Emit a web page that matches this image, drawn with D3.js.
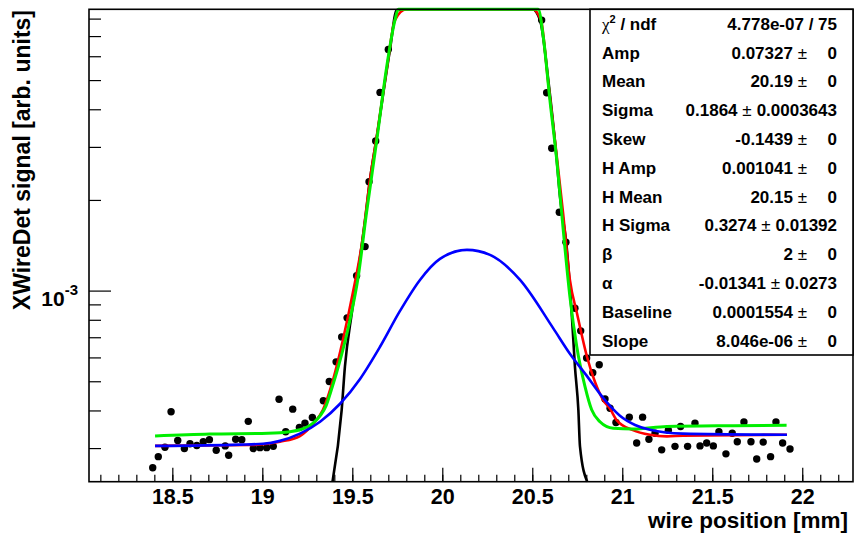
<!DOCTYPE html>
<html>
<head>
<meta charset="utf-8">
<script src="https://cdn.jsdelivr.net/npm/d3@7"></script>
<style>
  body { margin: 0; background: #fff; }
  text { font-family: "Liberation Sans", Arial, sans-serif; font-weight: bold; }
</style>
</head>
<body>
<div id="chart"></div>
<script>
// measured points: wire position [mm] and signal
const wirePos = [18.391, 18.422, 18.459, 18.493, 18.530, 18.567, 18.598, 18.636, 18.672, 18.706,
  18.744, 18.794, 18.813, 18.852, 18.886, 18.922, 18.950, 18.987, 19.024, 19.061,
  19.093, 19.130, 19.169, 19.206, 19.237, 19.278, 19.339, 19.372, 19.410, 19.441,
  19.471, 19.524, 19.571, 19.593, 19.630, 19.654, 19.700,
  20.552, 20.580, 20.608, 20.650, 20.687, 20.737, 20.769, 20.802, 20.836, 20.872,
  20.904, 20.932, 20.965, 21.039, 21.080, 21.113, 21.148, 21.182, 21.219, 21.256,
  21.293, 21.324, 21.363, 21.404, 21.432, 21.469, 21.506, 21.537, 21.576, 21.611,
  21.639, 21.676, 21.715, 21.747, 21.783, 21.824, 21.854, 21.891, 21.932];
const signal = [2.58e-4, 2.81e-4, 3.02e-4, 3.96e-4, 3.18e-4, 2.99e-4, 3.10e-4, 3.06e-4, 3.15e-4, 3.20e-4,
  2.95e-4, 3.05e-4, 2.84e-4, 3.21e-4, 3.20e-4, 3.68e-4, 2.99e-4, 3.01e-4, 3.01e-4, 3.04e-4,
  4.36e-4, 3.40e-4, 4.04e-4, 3.51e-4, 3.63e-4, 3.79e-4, 4.31e-4, 4.99e-4, 5.80e-4, 7.02e-4,
  8.12e-4, 1.121e-3, 1.40e-3, 2.30e-3, 3.14e-3, 4.55e-3, 6.32e-3,
  7.91e-3, 4.54e-3, 2.97e-3, 1.82e-3, 1.447e-3, 8.74e-4, 7.35e-4, 5.97e-4, 5.34e-4, 5.67e-4,
  4.37e-4, 4.07e-4, 3.65e-4, 3.80e-4, 3.12e-4, 3.80e-4, 3.21e-4, 3.36e-4, 2.96e-4, 3.44e-4,
  3.04e-4, 3.54e-4, 3.04e-4, 3.63e-4, 3.05e-4, 3.12e-4, 3.05e-4, 3.40e-4, 2.87e-4, 3.36e-4,
  3.15e-4, 3.66e-4, 3.15e-4, 2.76e-4, 3.14e-4, 2.81e-4, 3.66e-4, 3.12e-4, 2.98e-4];

// fit curves, [position, signal]
const blackFit = [[19.39, 2.3e-4], [19.441, 4.02e-4], [19.459, 5.59e-4], [19.497, 8.41e-4], [19.533, 1.171e-3],
  [19.571, 1.716e-3], [19.598, 2.33e-3], [19.636, 3.24e-3], [19.709, 6.29e-3], [19.747, 8.54e-3],
  [19.80, 1.3e-2], [20.0, 5.5e-2], [20.19, 7.3e-2], [20.40, 4.0e-2], [20.50, 1.4e-2],
  [20.543, 7.91e-3], [20.589, 5.00e-3], [20.636, 2.71e-3], [20.654, 2.05e-3], [20.691, 1.40e-3],
  [20.719, 8.41e-4], [20.737, 5.59e-4], [20.756, 4.02e-4], [20.765, 3.04e-4], [20.805, 2.3e-4]];

const redFit = [[18.404, 3.05e-4], [18.932, 3.07e-4], [19.098, 3.15e-4], [19.209, 3.29e-4], [19.282, 3.61e-4],
  [19.337, 4.02e-4], [19.393, 5.05e-4], [19.448, 6.86e-4], [19.503, 9.83e-4], [19.554, 1.44e-3],
  [19.598, 2.33e-3], [19.637, 3.29e-3], [19.693, 5.52e-3], [19.737, 7.91e-3],
  [19.80, 1.3e-2], [20.0, 5.6e-2], [20.19, 7.4e-2], [20.40, 4.1e-2], [20.50, 1.5e-2],
  [20.548, 7.91e-3], [20.587, 5.00e-3], [20.632, 2.93e-3], [20.671, 1.81e-3], [20.709, 1.085e-3],
  [20.748, 8.43e-4], [20.804, 6.03e-4], [20.848, 4.98e-4], [20.893, 4.34e-4], [20.932, 4.05e-4],
  [20.971, 3.70e-4], [21.059, 3.44e-4], [21.154, 3.32e-4], [21.248, 3.28e-4], [21.337, 3.30e-4],
  [21.915, 3.32e-4]];

const greenFit = [[18.404, 3.29e-4], [18.708, 3.34e-4], [19.032, 3.36e-4], [19.154, 3.40e-4], [19.209, 3.45e-4],
  [19.282, 3.63e-4], [19.321, 3.84e-4], [19.354, 4.14e-4], [19.382, 4.65e-4], [19.422, 5.58e-4],
  [19.487, 7.99e-4], [19.533, 1.113e-3], [19.577, 1.78e-3], [19.636, 3.16e-3], [19.691, 5.53e-3],
  [19.737, 7.91e-3], [19.756, 8.59e-3],
  [19.80, 1.3e-2], [20.0, 5.5e-2], [20.19, 7.4e-2], [20.40, 4.0e-2], [20.50, 1.1e-2],
  [20.533, 8.59e-3], [20.561, 6.96e-3], [20.598, 4.29e-3], [20.636, 2.71e-3], [20.672, 1.59e-3],
  [20.709, 9.55e-4], [20.747, 6.52e-4], [20.793, 4.80e-4], [20.830, 4.02e-4], [20.876, 3.67e-4],
  [20.950, 3.49e-4], [21.061, 3.47e-4], [21.247, 3.54e-4], [21.617, 3.56e-4], [21.913, 3.57e-4]];

const blueFit = [[18.404, 3.05e-4], [18.876, 3.08e-4], [19.004, 3.10e-4], [19.098, 3.17e-4], [19.209, 3.35e-4],
  [19.321, 3.67e-4], [19.432, 4.21e-4], [19.543, 5.09e-4], [19.654, 6.51e-4], [19.765, 8.56e-4],
  [19.876, 1.085e-3], [19.987, 1.274e-3], [20.137, 1.365e-3], [20.265, 1.314e-3], [20.432, 1.085e-3],
  [20.615, 7.52e-4], [20.709, 6.17e-4], [20.803, 5.21e-4], [20.876, 4.54e-4], [20.932, 4.14e-4],
  [20.987, 3.84e-4], [21.071, 3.58e-4], [21.154, 3.45e-4], [21.337, 3.35e-4], [21.915, 3.32e-4]];

// axis ticks
const xMajorTicks = [18.5, 19, 19.5, 20, 20.5, 21, 21.5, 22];
const xMinorTicks = d3.range(181, 223).map((i) => i / 10);
const yMajorTicks = [1e-3];
const yMinorTicks = [3e-4, 4e-4, 5e-4, 6e-4, 7e-4, 8e-4, 9e-4, 2e-3, 3e-3, 4e-3, 5e-3, 6e-3, 7e-3, 8e-3];

// fit box
const statNames = ['chi', 'Amp', 'Mean', 'Sigma', 'Skew', 'H Amp', 'H Mean', 'H Sigma', 'β', 'α', 'Baseline', 'Slope'];
const statValues = ['4.778e-07 / 75', '0.07327', '20.19', '0.1864', '-0.1439', '0.001041', '20.15', '0.3274', '2', '-0.01341', '0.0001554', '8.046e-06'];
const statErrors = [null, '0', '0', '0.0003643', '0', '0', '0', '0.01392', '0', '0.0273', '0', '0'];

const width = 854;
const height = 534;
const frame = { left: 89, top: 9.3, right: 853, bottom: 481.7 };

const svg = d3.select('#chart').append('svg')
  .attr('width', width)
  .attr('height', height);

const x = d3.scaleLinear().domain([18.037, 22.282]).range([frame.left, frame.right]);
const y = d3.scaleLog().domain([2.32e-4, 8.59e-3]).range([frame.bottom, frame.top]);

svg.append('clipPath').attr('id', 'frameClip')
  .append('rect')
  .attr('x', frame.left).attr('y', frame.top)
  .attr('width', frame.right - frame.left).attr('height', frame.bottom - frame.top);

// points
svg.append('g').attr('clip-path', 'url(#frameClip)')
  .selectAll('circle')
  .data(wirePos)
  .enter()
  .append('circle')
  .attr('cx', (d) => x(d))
  .attr('cy', (d, i) => y(signal[i]))
  .attr('r', 3.7)
  .attr('fill', '#000');

// curves are clamped to the frame like ROOT does
const clampY = (v) => Math.max(frame.top, Math.min(frame.bottom, y(v)));
const line = d3.line()
  .x((d) => x(d[0]))
  .y((d) => clampY(d[1]))
  .curve(d3.curveMonotoneX);

[[blackFit, '#000'], [redFit, '#ff0000'], [greenFit, '#00ee00'], [blueFit, '#0000ff']].forEach(([pts, col]) => {
  svg.append('path')
    .attr('d', line(pts))
    .attr('fill', 'none')
    .attr('stroke', col)
    .attr('stroke-width', col === '#00ee00' ? 3 : 2.6)
    .attr('stroke-linejoin', 'round');
});

// x axis
const xMajor = svg.append('g')
  .attr('transform', `translate(0,${frame.bottom})`)
  .call(d3.axisBottom(x).tickValues(xMajorTicks).tickSizeInner(-14).tickSizeOuter(0)
    .tickPadding(7).tickFormat(d3.format('')));
xMajor.attr('font-size', 21.5).attr('font-family', null);
svg.append('g')
  .attr('transform', `translate(0,${frame.bottom})`)
  .call(d3.axisBottom(x).tickValues(xMinorTicks).tickSizeInner(-7).tickSizeOuter(0).tickFormat(''));

// y axis
const yMajor = svg.append('g')
  .attr('transform', `translate(${frame.left},0)`)
  .call(d3.axisLeft(y).tickValues(yMajorTicks).tickSizeInner(-22).tickSizeOuter(0).tickFormat(''));
yMajor.selectAll('.tick text').remove();
svg.append('g')
  .attr('transform', `translate(${frame.left},0)`)
  .call(d3.axisLeft(y).tickValues(yMinorTicks).tickSizeInner(-12).tickSizeOuter(0).tickFormat(''));
svg.selectAll('.domain').remove();
svg.selectAll('.tick line').attr('stroke', '#000').attr('stroke-width', 1.2);

yMajorTicks.forEach((v) => {
  const t = svg.append('text')
    .attr('x', frame.left - 11)
    .attr('y', y(v) + 15)
    .attr('text-anchor', 'end')
    .attr('font-size', 21);
  t.append('tspan').text('10');
  t.append('tspan').attr('font-size', 15).attr('dy', -11).text(String(Math.round(Math.log10(v))));
});

// frame
svg.append('rect')
  .attr('x', frame.left).attr('y', frame.top)
  .attr('width', frame.right - frame.left).attr('height', frame.bottom - frame.top)
  .attr('fill', 'none')
  .attr('stroke', '#000')
  .attr('stroke-width', 1.6);

// axis titles
svg.append('text')
  .attr('x', 848)
  .attr('y', 528)
  .attr('text-anchor', 'end')
  .attr('font-size', 22.5)
  .text('wire position [mm]');

svg.append('text')
  .attr('transform', 'translate(30,10) rotate(-90)')
  .attr('text-anchor', 'end')
  .attr('font-size', 23)
  .text('XWireDet signal [arb. units]');

// stats box
const box = { left: 590, top: frame.top, right: frame.right, bottom: 355 };
svg.append('rect')
  .attr('x', box.left).attr('y', box.top)
  .attr('width', box.right - box.left).attr('height', box.bottom - box.top)
  .attr('fill', '#fff')
  .attr('stroke', '#000')
  .attr('stroke-width', 1.6);

const rowH = (box.bottom - box.top) / statNames.length;
const fs = 17;
const rightEdge = 837;

statNames.forEach((name, i) => {
  const base = box.top + rowH * (i + 0.5) + 6;
  const label = svg.append('text').attr('x', 602).attr('y', base).attr('font-size', fs);
  if (name === 'chi') {
    label.append('tspan').attr('font-family', '"Liberation Serif", serif').attr('font-weight', 'normal').text('χ');
    label.append('tspan').attr('font-size', 11).attr('dy', -7).text('2');
    label.append('tspan').attr('dy', 7).text(' / ndf');
  } else if (name === 'β' || name === 'α') {
    label.attr('font-family', '"Liberation Serif", serif').attr('font-weight', 'normal').text(name);
  } else {
    label.text(name);
  }

  if (statErrors[i] === null) {
    svg.append('text').attr('x', rightEdge).attr('y', base).attr('text-anchor', 'end')
      .attr('font-size', fs).text(statValues[i]);
    return;
  }
  const err = svg.append('text').attr('x', rightEdge).attr('y', base).attr('text-anchor', 'end')
    .attr('font-size', fs).text(statErrors[i]);
  const errW = Math.max(err.node().getComputedTextLength(), 25);
  const val = svg.append('text').attr('x', rightEdge - errW - 5).attr('y', base).attr('text-anchor', 'end')
    .attr('font-size', fs);
  val.append('tspan').text(`${statValues[i]} `);
  val.append('tspan').attr('font-weight', 'normal').text('±');
});
</script>
</body>
</html>
